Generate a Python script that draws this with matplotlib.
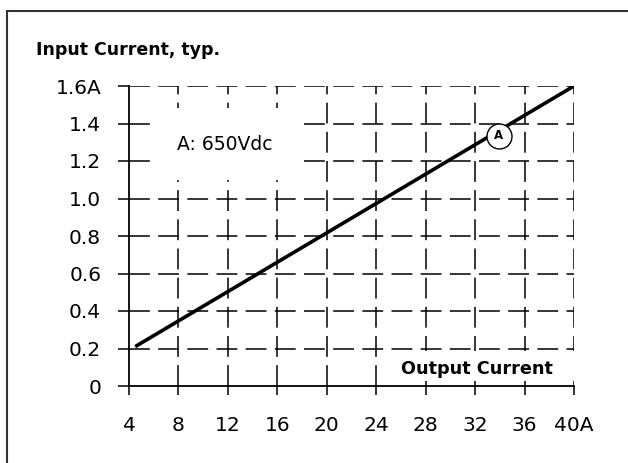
import matplotlib
matplotlib.use("Agg")
import matplotlib.pyplot as plt
from matplotlib.patches import Rectangle

# Data
x_ticks = [4, 8, 12, 16, 20, 24, 28, 32, 36, 40]
x_labels = ["4", "8", "12", "16", "20", "24", "28", "32", "36", "40A"]
y_ticks = [0, 0.2, 0.4, 0.6, 0.8, 1.0, 1.2, 1.4, 1.6]
y_labels = ["0", "0.2", "0.4", "0.6", "0.8", "1.0", "1.2", "1.4", "1.6A"]

curve_x = [4.5, 40]
curve_y = [0.21, 1.6]
curve_name = "A"
curve_note = "A: 650Vdc"
marker_x, marker_y = 33.9, 1.335

plt.rcParams['font.family'] = 'DejaVu Sans'
plt.rcParams['lines.scale_dashes'] = False

W, H = 628, 463
fig = plt.figure(figsize=(W / 100, H / 100), dpi=100)
ax = fig.add_axes([129 / W, 1 - 386 / H, 445 / W, 300 / H])

# outer frame
fig.patches.append(Rectangle((7 / W, -0.05), 1.2, 1 - 11 / H + 0.05, transform=fig.transFigure,
                             fill=False, ec='#333333', lw=1.5))

# dashed grid (drawn manually so the text masks sit above it and ticks above those)
dash = (0, (15, 6))
for y in y_ticks[1:]:
    ax.axhline(y, color='black', lw=1.1, ls=dash, zorder=1)
for x in x_ticks[1:]:
    ax.axvline(x, color='black', lw=1.1, ls=dash, zorder=1)

# the curve
ax.plot(curve_x, curve_y, color='black', lw=2.6, solid_capstyle='butt', zorder=3)
ax.plot([marker_x], [marker_y], marker='o', ms=18, mfc='white', mec='black', mew=1.0, zorder=4)
ax.text(marker_x, marker_y, curve_name, ha='center', va='center', fontsize=8.5,
        fontweight='bold', zorder=5)

# notes with white masks
ax.text(7.9, 1.29, curve_note, fontsize=13.5, va='center', ha='left', zorder=3,
        bbox=dict(boxstyle='square,pad=1.4', fc='white', ec='none'))
ax.add_patch(Rectangle((26.8, 0.025), 14.5, 0.16, fc='white', ec='none', zorder=2, clip_on=False))
ax.text(38.3, 0.045, "Output Current", fontsize=12.7, fontweight='bold', ha='right',
        va='bottom', zorder=3)

fig.text(36 / W, 1 - 50 / H, "Input Current, typ.", fontsize=12.5, fontweight='bold',
         ha='left', va='center')

ax.set_xlim(4, 40)
ax.set_ylim(0, 1.6)
ax.set_xticks(x_ticks)
ax.set_xticklabels(x_labels)
ax.set_yticks(y_ticks)
ax.set_yticklabels(y_labels)
ax.tick_params(axis='both', labelsize=14.5, colors='black', width=1.1)
ax.tick_params(axis='y', direction='out', length=8, pad=12)
ax.tick_params(axis='x', direction='out', length=6.5, pad=15)
ax.set_axisbelow(False)

for side in ['top', 'right']:
    ax.spines[side].set_visible(False)
for side in ['left', 'bottom']:
    ax.spines[side].set_linewidth(1.3)
    ax.spines[side].set_zorder(2.6)

fig.savefig("out.png", dpi=100)
